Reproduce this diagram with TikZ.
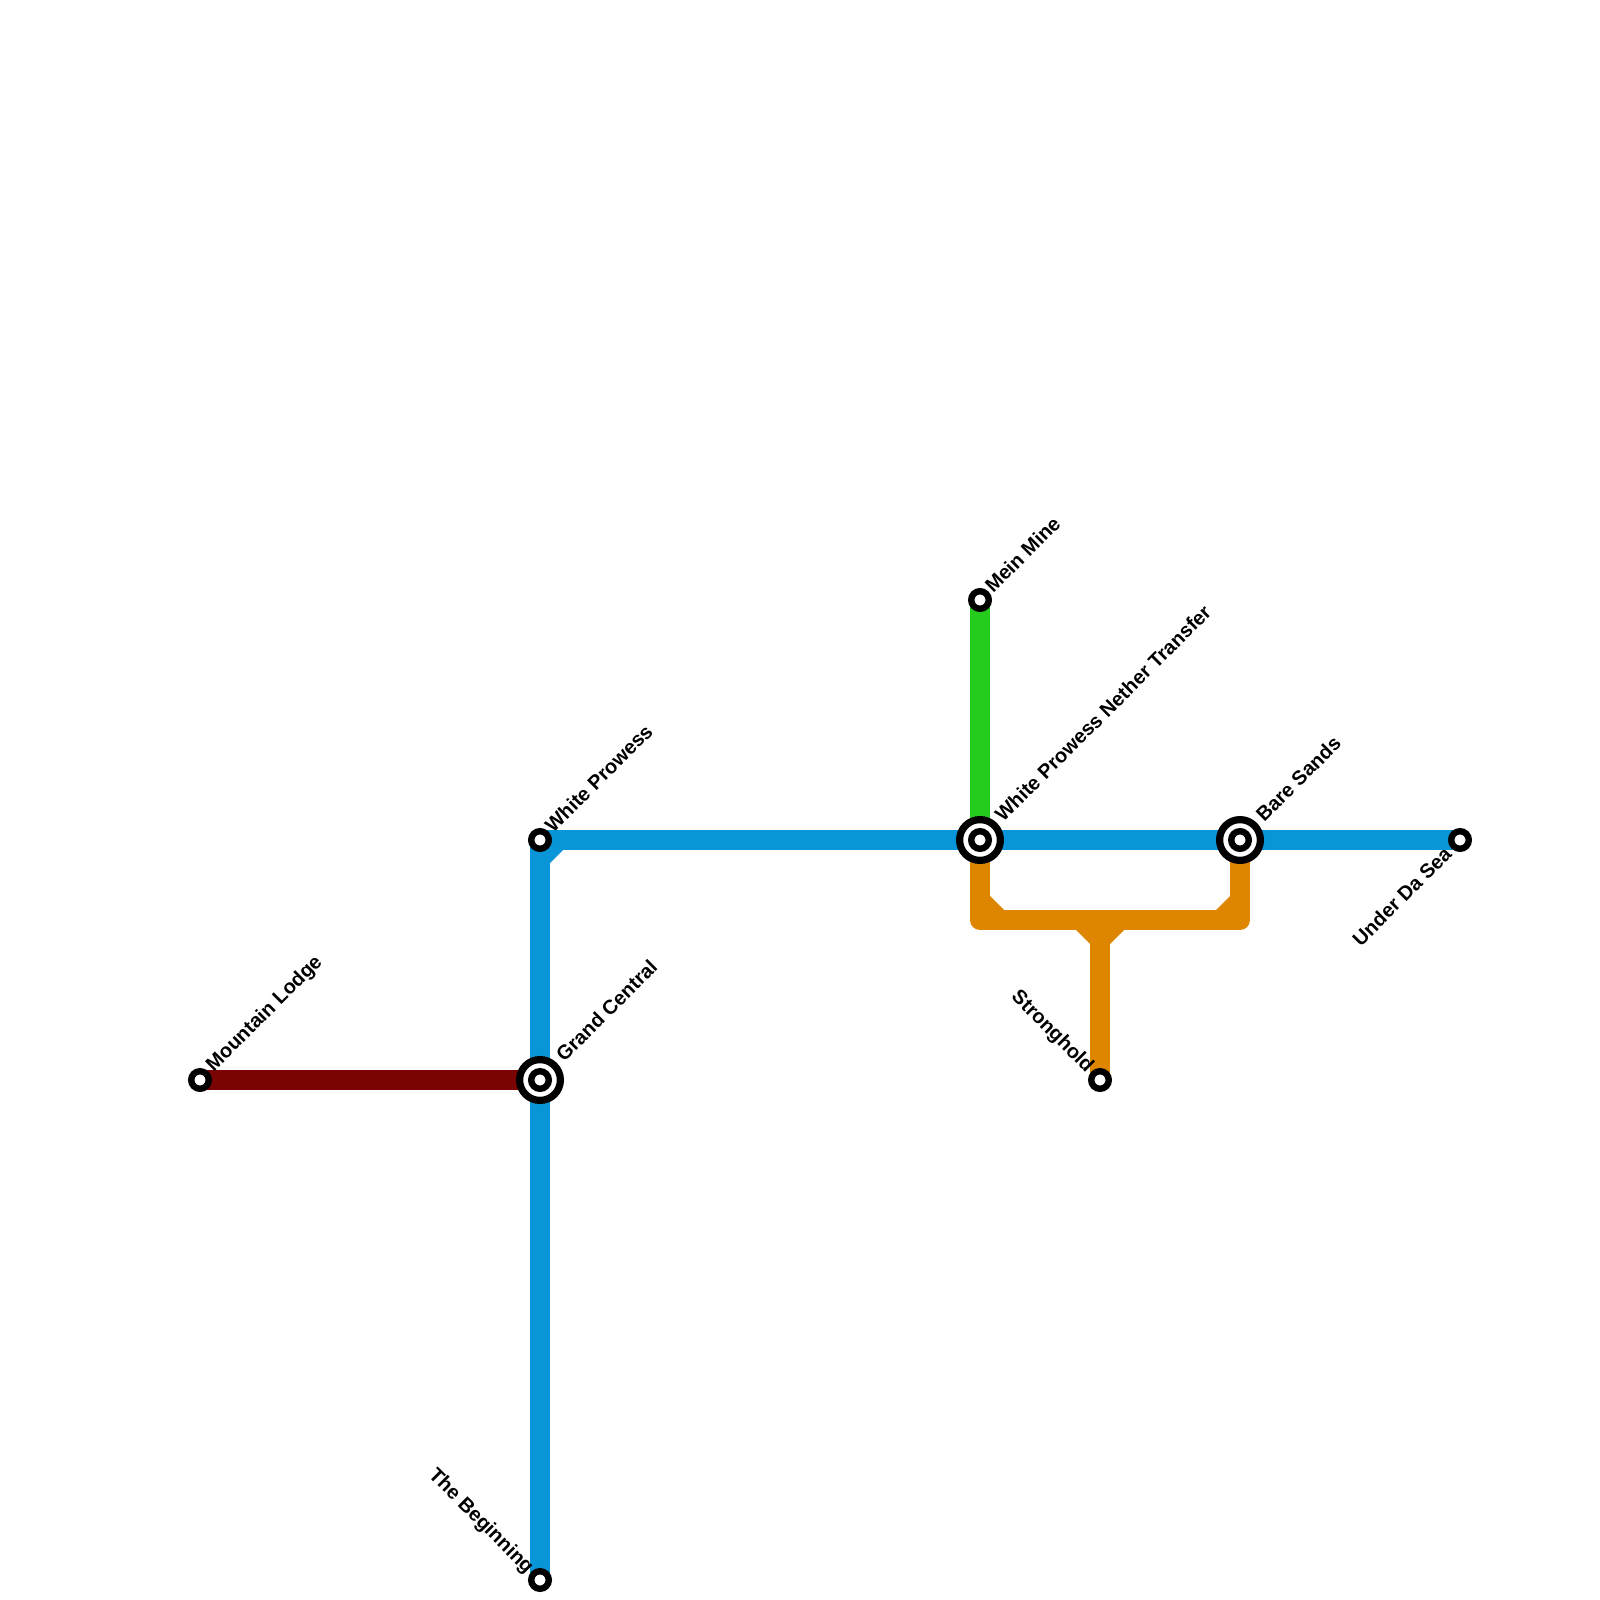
\documentclass[tikz,border=0pt]{standalone}
\usepackage{fontspec}
\setmainfont{Liberation Sans}
\usetikzlibrary{positioning,backgrounds}

\tikzset{
  stop/.style={draw=black, fill=white, circle, line width=3.2pt, inner sep=0pt, minimum size=8.8pt},
  hub/.style={draw=black, fill=white, circle, line width=3.6pt, inner sep=0pt, minimum size=20.4pt},
  blueline/.style={draw=lineblue, line width=10pt, line join=round},
  redline/.style={draw=linered, line width=10pt, line join=round},
  greenline/.style={draw=linegreen, line width=10pt, line join=round},
  orangeline/.style={draw=lineorange, line width=10pt, line join=round},
  upname/.style={font=\bfseries\fontsize{10}{12}\selectfont, rotate=45, anchor=west, inner sep=0pt},
  downname/.style={font=\bfseries\fontsize{10}{12}\selectfont, rotate=-45, anchor=east, inner sep=0pt},
  backname/.style={font=\bfseries\fontsize{10}{12}\selectfont, rotate=45, anchor=east, inner sep=0pt}
}
\definecolor{lineblue}{RGB}{9,150,216}
\definecolor{linered}{RGB}{122,3,3}
\definecolor{linegreen}{RGB}{38,204,29}
\definecolor{lineorange}{RGB}{223,134,0}

\begin{document}
\begin{tikzpicture}[x=0.5pt, y=-0.5pt]
  \useasboundingbox (0,0) rectangle (1600,1600);

  % interchanges
  \node (grandhub) [hub] at (540,1080) {};
  \node (transferhub) [hub] at (980,840) {};
  \node (sandshub) [hub] at (1240,840) {};

  % stations
  \node (lodge) [stop] at (200,1080) {};
  \node (grand) [stop] at (540,1080) {};
  \node (prowess) [stop] at (540,840) {};
  \node (beginning) [stop] at (540,1580) {};
  \node (mine) [stop] at (980,600) {};
  \node (transfer) [stop] at (980,840) {};
  \node (sands) [stop] at (1240,840) {};
  \node (sea) [stop] at (1460,840) {};
  \node (stronghold) [stop] at (1100,1080) {};

  % bends of the orange line
  \coordinate (leftturn) at (980,920);
  \coordinate (rightturn) at (1240,920);
  \coordinate (forkturn) at (1100,920);

  \begin{scope}[on background layer]
    \draw[redline] (lodge.center) -- (grand.center);
    \draw[greenline] (mine.center) -- (transfer.center);
    \draw[orangeline] (transfer.center) -- (leftturn) -- (rightturn) -- (sands.center);
    \draw[orangeline] (forkturn) -- (stronghold.center);
    \draw[blueline] (beginning.center) -- (prowess.center) -- (sea.center);
    % corner fillets
    \fill[lineblue] (550,850) -- (563,850) -- (550,863) -- cycle;
    \fill[lineorange] (990,896) -- (1004,910) -- (990,910) -- cycle;
    \fill[lineorange] (1230,896) -- (1216,910) -- (1230,910) -- cycle;
    \fill[lineorange] (1076,930) -- (1124,930) -- (1110,944) -- (1090,944) -- cycle;
  \end{scope}

  % station names
  \node (lodgename) [upname] at (210,1069) {Mountain Lodge};
  \node (grandname) [upname] at (559,1058) {Grand Central};
  \node (prowessname) [upname] at (548,829) {White Prowess};
  \node (minename) [upname] at (988,589) {Mein Mine};
  \node (transfername) [upname] at (998,818) {White Prowess Nether Transfer};
  \node (sandsname) [upname] at (1259,818) {Bare Sands};
  \node (beginningname) [downname] at (530,1571) {The Beginning};
  \node (strongholdname) [downname] at (1090,1070) {Stronghold};
  \node (seaname) [backname] at (1448,850) {Under Da Sea};
\end{tikzpicture}
\end{document}
